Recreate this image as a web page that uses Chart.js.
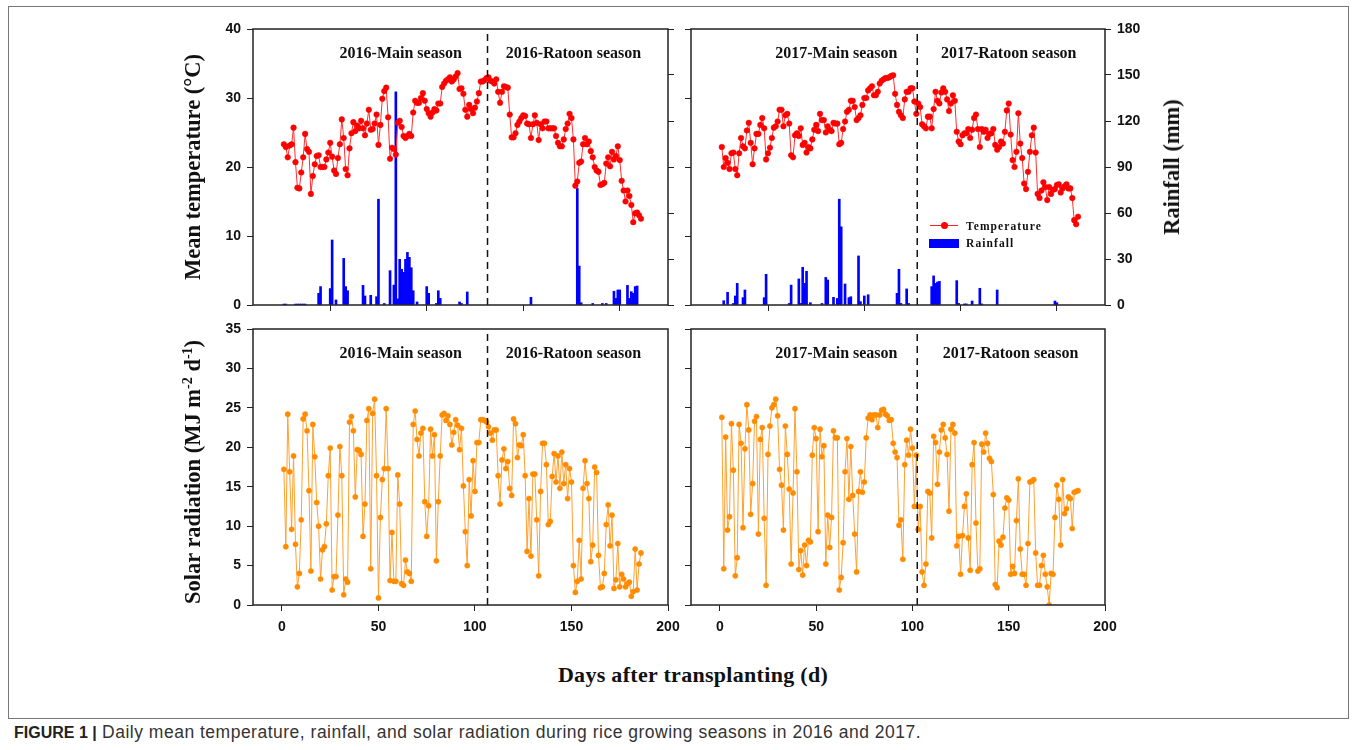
<!DOCTYPE html>
<html>
<head>
<meta charset="utf-8">
<script src="https://cdn.jsdelivr.net/npm/chart.js@4.4.1/dist/chart.umd.min.js"></script>
<style>
  body { margin: 0; background: #fff; width: 1357px; height: 750px; position: relative; overflow: hidden; }
  canvas { position: absolute; }
  .frame { position: absolute; left: 8px; top: 6px; width: 1341px; height: 713px; border: 1px solid #777; box-sizing: border-box; }
  .vtitle { position: absolute; font: bold 22.5px "Liberation Serif", serif; color: #111; white-space: nowrap;
            transform: translate(-50%, -50%) rotate(-90deg); }
  .vtitle sup { font-size: 14px; }
  .xtitle { position: absolute; left: 693px; top: 675px; transform: translate(-50%, -50%); letter-spacing: 0.3px;
            font: bold 22px "Liberation Serif", serif; color: #111; white-space: nowrap; }
  .caption { position: absolute; left: 14px; top: 722px; font: 17.5px "Liberation Sans", sans-serif; letter-spacing: 0.5px;
             color: #333; white-space: nowrap; }
  .caption b { color: #222; font-size: 16px; letter-spacing: 0; }
  .leg { position: absolute; font: bold 11.5px "Liberation Serif", serif; letter-spacing: 1.1px; color: #111; white-space: nowrap; }
</style>
</head>
<body>
<div class="frame"></div>
<canvas id="tempChart16" width="545" height="331" style="left:193px;top:14px"></canvas>
<canvas id="tempChart17" width="544" height="331" style="left:631px;top:14px"></canvas>
<canvas id="solarChart16" width="545" height="331" style="left:193px;top:314px"></canvas>
<canvas id="solarChart17" width="544" height="331" style="left:631px;top:314px"></canvas>

<div class="vtitle" style="left:193px;top:167px">Mean temperature (°C)</div>
<div class="vtitle" style="left:193px;top:472px">Solar radiation (MJ m<sup>-2</sup> d<sup>-1</sup>)</div>
<div class="vtitle" style="left:1172px;top:167px">Rainfall (mm)</div>
<div class="xtitle">Days after transplanting (d)</div>

<!-- legend (top right panel) -->
<div style="position:absolute;left:930px;top:225px;width:28px;height:1px;background:#ff2020"></div>
<div style="position:absolute;left:941px;top:222px;width:7px;height:7px;border-radius:50%;background:#ff0000"></div>
<div class="leg" style="left:966px;top:220px">Temperature</div>
<div style="position:absolute;left:929px;top:239px;width:30px;height:9px;background:#0000ff"></div>
<div class="leg" style="left:966px;top:237px">Rainfall</div>

<div class="caption"><b>FIGURE 1 |</b> Daily mean temperature, rainfall, and solar radiation during rice growing seasons in 2016 and 2017.</div>

<script>
// ticks
const dayTicks = [0, 50, 100, 150, 200];
const tempTicks = [0, 10, 20, 30, 40];
const rainTicks = [0, 30, 60, 90, 120, 150, 180];
const solarTicks = [0, 5, 10, 15, 20, 25, 30, 35];

// day where ratoon season starts
const split2016 = 106.5;
const split2017 = 102.5;

// daily mean temperature (°C), day 1..186
const temp2016 = [
  23.3, 22.9, 21.4, 23.1, 23.3, 25.7, 20.7, 17.0, 16.9, 19.2,
  21.4, 24.8, 22.6, 22.2, 16.1, 18.7, 20.4, 21.6, 21.7, 20.0,
  20.0, 20.0, 21.1, 22.1, 23.5, 21.5, 19.5, 19.0, 21.3, 23.3,
  26.9, 24.2, 19.7, 18.8, 22.7, 24.9, 26.5, 25.2, 26.0, 25.6,
  26.7, 25.6, 24.6, 26.3, 28.3, 25.4, 25.5, 26.3, 27.6, 23.2,
  26.1, 29.9, 31.0, 31.5, 27.2, 21.2, 22.8, 22.6, 21.8, 26.4,
  26.7, 25.8, 24.5, 24.2, 24.5, 24.8, 24.5, 27.9, 29.6, 29.3,
  29.3, 30.0, 30.7, 29.6, 28.4, 27.8, 27.3, 27.9, 28.4, 28.2,
  29.2, 29.2, 31.6, 32.1, 32.5, 32.7, 33.0, 32.4, 32.7, 33.1,
  33.6, 31.3, 31.4, 30.6, 28.3, 27.3, 29.0,
  28.4, 27.8, 28.6, 29.5, 30.7, 32.4, 32.4, 32.6, 32.9, 33.0,
  32.5, 32.4, 32.1, 32.7, 30.9, 29.3, 30.9, 31.7, 31.6, 31.5,
  27.6, 24.3, 24.3, 24.9, 26.1, 26.6, 27.1, 27.5, 27.4, 26.3,
  26.2, 24.2, 26.2, 27.5, 26.4, 23.9, 26.2, 25.6, 26.6, 26.6,
  25.6, 25.6, 25.6, 25.6, 24.5, 23.5, 23.0, 23.0, 24.0, 25.5,
  26.3, 27.7, 27.1, 24.0, 17.3, 17.9, 20.6, 20.8, 23.3, 24.2,
  23.3, 23.7, 22.3, 21.4, 20.0, 19.5, 19.3, 17.4, 17.5, 17.7,
  20.5, 21.4, 20.1, 22.2, 21.1, 21.6, 23.0, 21.0, 18.0, 16.6,
  15.0, 16.6, 15.8, 14.5, 12.0, 13.3, 13.4, 13.0, 12.5
];
const temp2017 = [
  22.9, 20.0, 21.3, 20.6, 19.7, 22.0, 22.1, 19.7, 18.8, 22.0,
  24.2, 23.0, 22.7, 25.3, 26.4, 23.5, 20.4, 22.7, 24.8, 24.8,
  26.1, 27.1, 25.6, 21.1, 22.0, 22.8, 24.2, 25.7, 25.9, 26.6,
  28.3, 28.3, 25.9, 27.5, 27.7, 26.3, 21.7, 21.4, 24.6, 24.9,
  24.5, 25.6, 23.2, 23.5, 22.1, 22.9, 22.7, 24.0, 25.4, 26.1,
  25.2, 27.7, 26.8, 26.8, 25.0, 25.9, 25.4, 25.2, 26.4, 26.3,
  26.3, 23.3, 23.5, 25.5, 26.6, 28.0, 28.3, 29.6, 29.6, 28.7,
  26.8, 27.1, 27.5, 29.0, 30.0, 30.0, 31.1, 31.4, 31.7, 30.4,
  30.4, 30.9, 32.1, 32.5, 32.7, 32.9, 32.9, 33.0, 33.2, 33.3,
  30.6, 29.0, 28.0, 27.5, 27.1, 29.8, 30.9,
  30.9, 31.4, 31.4, 29.5, 27.7, 29.2, 28.7, 26.2, 25.9, 25.6,
  27.3, 27.3, 25.6, 28.4, 30.9, 29.6, 29.2, 30.8, 31.4, 30.9,
  29.8, 28.1, 29.2, 30.4, 29.6, 25.1, 23.7, 23.3, 24.6, 24.9,
  24.9, 25.5, 24.2, 25.4, 27.1, 27.6, 25.5, 22.9, 25.5, 25.1,
  25.4, 24.2, 24.8, 24.9, 25.5, 23.2, 22.5, 22.9, 23.7, 23.4,
  25.1, 28.2, 29.2, 24.7, 21.0, 20.0, 22.2, 27.8, 23.4, 21.3,
  17.6, 16.8, 19.3, 22.2, 24.6, 25.7, 22.1, 16.1, 15.5, 16.6,
  17.8, 17.1, 15.2, 17.1, 16.1, 16.7, 16.8, 17.4, 17.5, 16.3,
  16.9, 17.2, 17.5, 16.9, 16.9, 15.5, 12.3, 11.7, 12.8
];

// rainfall (mm): rain days and amounts
const rainDay2016 = [1, 2, 7, 8, 9, 10, 11, 12, 19, 20, 25, 26, 28, 32, 33, 34, 42, 43, 46, 49,
  50, 53, 56, 58, 59, 60, 61, 62, 63, 64, 65, 66, 67, 68, 70, 75, 76, 80, 81, 82,
  92, 93, 96, 129, 153, 154, 155, 161, 166, 168, 172, 173, 174, 175, 179, 180, 181, 182, 183, 184];
const rain2016 = [0.6, 0.6, 0.6, 0.6, 0.6, 0.6, 0.6, 0.6, 7.6, 12, 10.7, 42.4, 3.3, 30.4, 12, 9.3, 12.8, 5.9, 6.3, 5.4,
  69, 1, 22.4, 13, 139, 4, 29.8, 23.3, 21.3, 29.8, 34.3, 31.1, 24.3, 9.3, 2, 12, 7.6, 1, 9.3, 4.3,
  2, 1, 8.5, 5, 76, 25.4, 1.5, 1, 1, 1, 9, 4.3, 9.8, 9.8, 12.8, 4.3, 8.7, 7.6, 12, 12.4];
const rainDay2017 = [2, 4, 7, 8, 9, 12, 13, 23, 24, 36, 37, 41, 42, 43, 44, 45, 47, 53, 55, 56,
  59, 61, 62, 63, 65, 67, 68, 72, 73, 75, 77, 92, 93, 94, 97, 98, 110, 111, 112, 113,
  114, 123, 124, 127, 128, 131, 135, 136, 144, 174, 175];
const rain2017 = [2.8, 8.3, 1, 5.9, 14.1, 4.8, 9.8, 4.8, 20, 1, 13, 17, 1, 24.6, 14.1, 22, 1.5, 1, 18, 16.3,
  5, 4.3, 69, 51, 13.7, 4.8, 5.4, 32, 2.2, 5.9, 6.7, 7.6, 23.3, 1, 10.5, 1, 12, 19, 14.1, 15,
  15.4, 15.9, 1, 0.7, 0.7, 2.6, 10.9, 0.7, 9.8, 2.6, 1.5];

// solar radiation (MJ m-2 d-1), day 1..186
const solar2016 = [
  17.2, 7.4, 24.2, 16.9, 9.6, 18.9, 7.7, 2.3, 4.0, 10.8,
  23.6, 24.2, 22.1, 14.5, 4.3, 22.9, 18.8, 13.0, 10.0, 3.3,
  7.0, 7.4, 10.3, 16.4, 19.9, 1.9, 3.6, 3.6, 11.4, 20.1,
  16.4, 1.3, 3.3, 2.9, 23.2, 23.9, 22.1, 13.7, 19.7, 19.6,
  19.1, 8.7, 12.8, 23.4, 24.9, 4.6, 24.3, 26.1, 16.4, 0.9,
  11.1, 15.9, 17.3, 24.9, 17.3, 3.1, 9.2, 3.0, 3.0, 16.5,
  12.8, 2.7, 2.5, 5.7, 4.2, 4.0, 3.0, 22.9, 24.6, 21.0,
  18.9, 21.8, 22.4, 13.1, 8.7, 12.6, 22.3, 18.9, 21.6, 5.6,
  13.1, 18.9, 24.1, 24.3, 23.4, 24.0, 22.9, 20.3, 21.9, 23.5,
  22.8, 19.7, 22.4, 15.1, 9.3, 5.0,
  15.9, 11.3, 18.3, 14.4, 20.6, 20.6, 23.5, 23.5, 23.4, 23.2,
  22.6, 21.8, 20.9, 22.2, 22.2, 16.4, 12.8, 18.4, 19.8, 17.3,
  18.2, 14.8, 13.9, 23.6, 23.0, 18.7, 20.3, 20.2, 21.6, 16.4,
  6.8, 13.5, 6.2, 16.6, 16.6, 10.8, 3.7, 14.4, 20.5, 20.5,
  17.8, 10.2, 10.6, 16.3, 19.2, 15.6, 18.9, 14.8, 19.4, 15.4,
  17.8, 13.5, 17.3, 15.6, 5.0, 1.6, 3.0, 8.2, 3.3, 14.8,
  18.3, 15.4, 13.5, 5.5, 7.6, 17.5, 16.8, 6.3, 2.2, 2.3,
  4.0, 10.2, 12.7, 7.5, 11.4, 2.1, 3.2, 7.8, 2.3, 3.9,
  3.3, 2.3, 2.7, 2.9, 1.1, 1.7, 7.1, 1.9, 5.2, 6.6
];
const solar2017 = [
  23.8, 4.6, 21.3, 9.5, 11.2, 23.0, 17.1, 3.7, 6.0, 22.9,
  20.5, 9.8, 19.8, 25.4, 22.2, 11.5, 15.4, 23.3, 23.9, 9.0,
  21.0, 22.5, 11.0, 2.5, 19.1, 22.7, 25.0, 25.4, 26.1, 24.0,
  17.2, 15.2, 9.5, 22.7, 19.1, 14.7, 5.2, 14.2, 24.9, 16.9,
  4.5, 6.9, 3.8, 7.6, 5.0, 8.2, 8.0, 19.0, 22.5, 21.1,
  9.3, 22.3, 18.8, 20.2, 5.2, 11.4, 7.3, 11.1, 22.1, 21.2,
  21.2, 1.9, 3.5, 7.9, 16.9, 21.1, 13.4, 20.1, 13.9, 9.0,
  4.2, 14.4, 16.9, 14.3, 15.6, 21.2, 23.7, 24.1, 23.5, 24.1,
  24.1, 22.5, 24.1, 24.7, 24.8, 24.2, 24.0, 23.4, 23.5, 20.5,
  19.4, 18.7, 10.1, 10.8, 5.8,
  17.8, 20.9, 19.0, 22.3, 19.9, 12.5, 19.0, 9.6, 12.5, 4.2,
  2.5, 5.2, 14.4, 14.2, 8.5, 21.4, 20.6, 15.3, 19.4, 22.2,
  22.9, 21.2, 19.1, 11.9, 22.3, 22.9, 21.8, 7.5, 8.7, 3.9,
  8.8, 12.5, 14.1, 8.5, 4.4, 17.8, 20.6, 10.4, 4.3, 4.6,
  20.4, 19.4, 21.8, 20.5, 18.6, 18.2, 14.0, 2.6, 2.2, 8.1,
  7.6, 8.6, 12.3, 13.6, 13.3, 3.9, 4.9, 4.0, 10.7, 16.0,
  7.1, 3.9, 3.9, 2.5, 7.8, 15.6, 15.7, 15.9, 6.6, 2.5,
  2.5, 5.0, 6.3, 3.9, 2.3, 0.0, 4.0, 3.9, 11.1, 15.2,
  13.4, 7.6, 15.9, 11.6, 12.2, 13.7, 13.5, 9.7, 14.3, 14.4,
  14.5
];

const tickFont = { family: 'Liberation Sans', size: 14, weight: 'bold' };

// draws the panel box and the season labels
const panelBox = {
  id: 'panelBox',
  afterDraw(chart, args, opts) {
    const { ctx, chartArea: a } = chart;
    ctx.save();
    ctx.strokeStyle = '#222';
    ctx.lineWidth = 1.5;
    ctx.strokeRect(a.left, a.top, a.right - a.left, a.bottom - a.top);
    ctx.font = 'bold 16px "Liberation Serif"';
    ctx.fillStyle = '#111';
    ctx.textAlign = 'center';
    ctx.textBaseline = 'middle';
    (opts.labels || []).forEach(l => {
      ctx.fillText(l.text, chart.scales.x.getPixelForValue(l.day), a.top + 25);
    });
    ctx.restore();
  }
};

function series(values) {
  return values.map((v, i) => ({ x: i + 1, y: v }));
}

function dayAxis(showLabels) {
  return {
    type: 'linear', min: -15, max: 200, offset: false,
    afterBuildTicks: s => { s.ticks = dayTicks.map(v => ({ value: v })); },
    afterFit: s => { s.height = 40; },
    grid: { display: true, drawOnChartArea: false, drawTicks: true, tickLength: 6, color: '#222' },
    border: { display: false },
    ticks: { display: showLabels, padding: 8, font: tickFont, color: '#111', maxRotation: 0 }
  };
}

function valueAxis(position, max, tickList, showLabels) {
  return {
    type: 'linear', position: position, min: 0, max: max,
    afterBuildTicks: s => { s.ticks = tickList.map(v => ({ value: v })); },
    afterFit: s => { s.width = position === 'left' ? 60 : 70; },
    grid: { display: true, drawOnChartArea: false, drawTicks: true, tickLength: 6, color: '#222' },
    border: { display: false },
    ticks: { display: showLabels, padding: 6, font: tickFont, color: '#111' }
  };
}

function splitLine(day, max, axis) {
  return {
    type: 'line', data: [{ x: day, y: 0 }, { x: day, y: max }], yAxisID: axis,
    borderColor: '#111', borderWidth: 1.5, borderDash: [7, 5], pointRadius: 0, order: 0
  };
}

function tempChart(id, temps, rainDays, rains, split, leftLabels, rightLabels, labels) {
  new Chart(document.getElementById(id), {
    type: 'line',
    data: {
      datasets: [
        splitLine(split, 40, 'y'),
        {
          label: 'Temperature', data: series(temps), yAxisID: 'y',
          borderColor: '#ff3030', borderWidth: 1, tension: 0,
          pointRadius: 2.8, pointBackgroundColor: '#ff0000', pointBorderColor: '#ff0000', pointBorderWidth: 0.5,
          order: 1
        },
        {
          type: 'bar', label: 'Rainfall', data: rainDays.map((d, i) => ({ x: d, y: rains[i] })), yAxisID: 'y1',
          backgroundColor: '#0000ff', barThickness: 2, order: 2
        }
      ]
    },
    options: {
      responsive: false, animation: false,
      layout: { padding: { top: 15, left: 0, right: 0, bottom: 0 } },
      scales: {
        x: dayAxis(false),
        y: valueAxis('left', 40, tempTicks, leftLabels),
        y1: valueAxis('right', 180, rainTicks, rightLabels)
      },
      plugins: { legend: { display: false }, tooltip: { enabled: false }, panelBox: { labels: labels } }
    },
    plugins: [panelBox]
  });
}

function solarChart(id, values, split, leftLabels, labels) {
  new Chart(document.getElementById(id), {
    type: 'line',
    data: {
      datasets: [
        splitLine(split, 35, 'y'),
        {
          label: 'Solar radiation', data: series(values), yAxisID: 'y',
          borderColor: '#ffa030', borderWidth: 1, tension: 0,
          pointRadius: 2.6, pointBackgroundColor: '#ff8c00', pointBorderColor: '#ff8c00', pointBorderWidth: 0.5,
          order: 1
        }
      ]
    },
    options: {
      responsive: false, animation: false,
      layout: { padding: { top: 15, left: 0, right: 70, bottom: 0 } },
      scales: {
        x: dayAxis(true),
        y: valueAxis('left', 35, solarTicks, leftLabels)
      },
      plugins: { legend: { display: false }, tooltip: { enabled: false }, panelBox: { labels: labels } }
    },
    plugins: [panelBox]
  });
}

tempChart('tempChart16', temp2016, rainDay2016, rain2016, split2016, true, false,
  [{ text: '2016-Main season', day: 61.5 }, { text: '2016-Ratoon season', day: 151 }]);
tempChart('tempChart17', temp2017, rainDay2017, rain2017, split2017, false, true,
  [{ text: '2017-Main season', day: 60.5 }, { text: '2017-Ratoon season', day: 150 }]);
solarChart('solarChart16', solar2016, split2016, true,
  [{ text: '2016-Main season', day: 61.5 }, { text: '2016-Ratoon season', day: 151 }]);
solarChart('solarChart17', solar2017, split2017, false,
  [{ text: '2017-Main season', day: 60.5 }, { text: '2017-Ratoon season', day: 151 }]);
</script>
</body>
</html>
